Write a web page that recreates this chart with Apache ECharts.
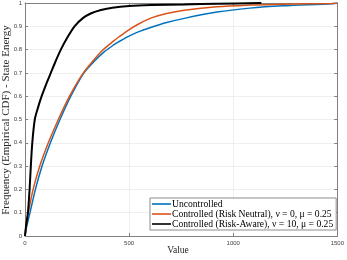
<!DOCTYPE html>
<html>
<head>
<meta charset="utf-8">
<script src="https://cdn.jsdelivr.net/npm/echarts@6/dist/echarts.min.js"></script>
<style>html,body{margin:0;padding:0;background:#fff;}#c{width:347px;height:260px;}</style>
</head>
<body>
<div id="c"></div>
<script>
const seriesNames = ['Uncontrolled', 'Controlled (Risk Neutral), ν = 0, μ = 0.25', 'Controlled (Risk-Aware), ν = 10, μ = 0.25'];
const blueX = [0, 8, 24, 50, 82, 122, 168, 220, 283, 335, 380, 426, 449, 497, 550, 607, 680, 765, 922, 1080, 1238, 1474, 1500];
const blueY = [0, 0.04, 0.1, 0.2, 0.3, 0.4, 0.5, 0.6, 0.7, 0.752, 0.79, 0.82, 0.833, 0.857, 0.878, 0.896, 0.916, 0.934, 0.961, 0.978, 0.988, 0.997, 1.0];
const orangeX = [0, 6, 16, 39, 71, 112, 160, 214, 280, 330, 370, 423, 449, 497, 550, 607, 680, 765, 922, 1080, 1238, 1474, 1500];
const orangeY = [0, 0.05, 0.1, 0.2, 0.3, 0.4, 0.5, 0.6, 0.7, 0.755, 0.795, 0.835, 0.853, 0.884, 0.912, 0.936, 0.955, 0.969, 0.984, 0.991, 0.995, 0.998, 1.0];
const blackX = [0, 6, 14, 22, 28, 35, 47, 62, 80, 101, 124, 147, 172, 202, 238, 278, 318, 365, 420, 500, 607, 765, 922, 1135];
const blackY = [0, 0.05, 0.1, 0.2, 0.3, 0.4, 0.5, 0.55, 0.6, 0.65, 0.7, 0.75, 0.8, 0.85, 0.9, 0.935, 0.956, 0.97, 0.98, 0.987, 0.991, 0.994, 0.997, 1.0];
const xTicks = [0, 500, 1000, 1500];
const yTicks = [0, 0.1, 0.2, 0.3, 0.4, 0.5, 0.6, 0.7, 0.8, 0.9, 1];

const pair = (xs, ys) => xs.map((x, i) => [x, ys[i]]);
const serif = 'Liberation Serif';
const axisColor = '#808080';
const labelStyle = { fontSize: 6, color: '#404040', fontFamily: 'Liberation Sans' };

const chart = echarts.init(document.getElementById('c'), null, { renderer: 'canvas' });
const xBase = {
  type: 'value', min: 0, max: 1500, interval: 500,
  axisLine: { show: true, onZero: false, lineStyle: { color: axisColor, width: 1 } },
  axisTick: { show: true, inside: true, length: 3, lineStyle: { color: axisColor } },
};
const yBase = {
  type: 'value', min: 0, max: 1, interval: 0.1,
  axisLine: { show: true, onZero: false, lineStyle: { color: axisColor, width: 1 } },
  axisTick: { show: true, inside: true, length: 3, lineStyle: { color: axisColor } },
};
chart.setOption({
  animation: false,
  backgroundColor: '#fff',
  grid: { left: 25, right: 5, top: 3, bottom: 24, containLabel: false },
  xAxis: [
    Object.assign({}, xBase, {
      position: 'bottom',
      axisLabel: Object.assign({ margin: 4, formatter: v => xTicks.includes(v) ? String(v) : '' }, labelStyle),
      splitLine: { show: true, lineStyle: { color: '#ebebeb', width: 0.8 } }
    }),
    Object.assign({}, xBase, { position: 'top', axisLabel: { show: false }, splitLine: { show: false } })
  ],
  yAxis: [
    Object.assign({}, yBase, {
      position: 'left',
      axisLabel: Object.assign({ margin: 3, formatter: v => { const t = yTicks.find(k => Math.abs(k - v) < 1e-6); return t === undefined ? '' : String(t); } }, labelStyle),
      splitLine: { show: true, lineStyle: { color: '#ebebeb', width: 0.8 } }
    }),
    Object.assign({}, yBase, { position: 'right', axisLabel: { show: false }, splitLine: { show: false } })
  ],
  legend: {
    orient: 'vertical', left: 150, top: 198,
    padding: [1, 3, 1, 2], itemGap: 0, itemWidth: 19, itemHeight: 1.6,
    icon: 'rect',
    backgroundColor: '#fff', borderColor: '#707070', borderWidth: 0.8,
    textStyle: { fontFamily: serif, fontSize: 9.6, lineHeight: 10, height: 10, color: '#000', padding: [0, 0, 0, -4] },
    data: seriesNames
  },
  series: [
    { name: seriesNames[0], type: 'line', data: pair(blueX, blueY), symbol: 'none', smooth: 0.3, lineStyle: { color: '#0072BD', width: 1.5 }, itemStyle: { color: '#0072BD' } },
    { name: seriesNames[1], type: 'line', data: pair(orangeX, orangeY), symbol: 'none', smooth: 0.3, lineStyle: { color: '#D95319', width: 1.5 }, itemStyle: { color: '#D95319' } },
    { name: seriesNames[2], type: 'line', data: pair(blackX, blackY), symbol: 'none', smooth: 0.3, lineStyle: { color: '#000000', width: 2 }, itemStyle: { color: '#000000' } }
  ],
  graphic: [
    { type: 'text', x: 178, y: 250, style: { text: 'Value', fontFamily: serif, fontSize: 9.5, fill: '#262626', align: 'center', verticalAlign: 'middle' } },
    { type: 'text', x: 6.5, y: 120, rotation: Math.PI / 2, style: { text: 'Frequency (Empirical CDF) - State Energy', fontFamily: serif, fontSize: 11, fill: '#262626', align: 'center', verticalAlign: 'middle' } }
  ]
});
</script>
</body>
</html>
